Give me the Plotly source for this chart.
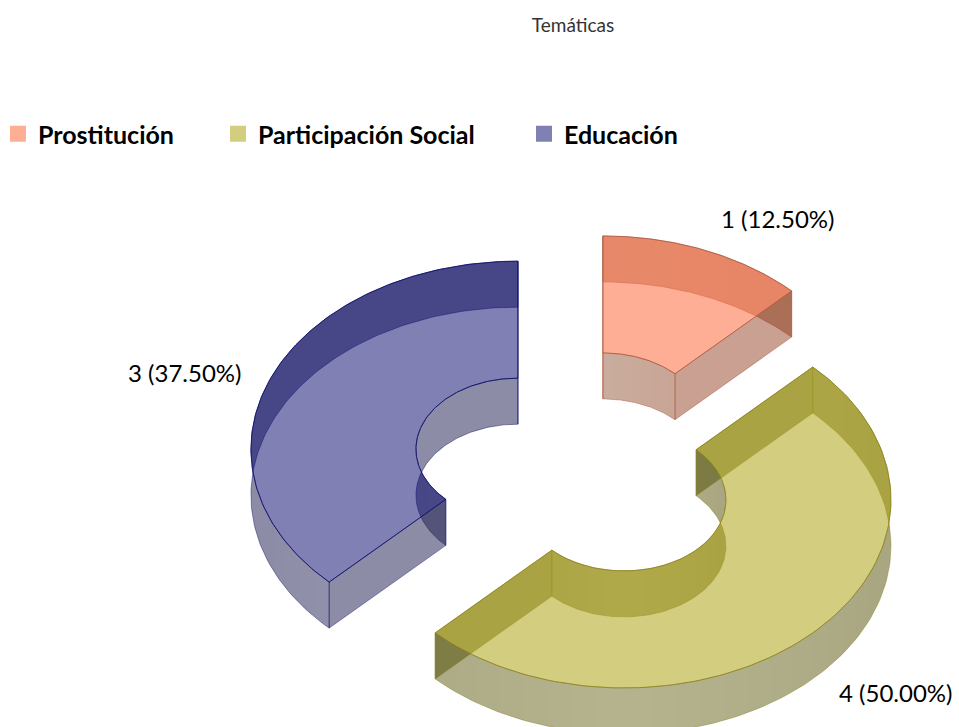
import numpy as np
import plotly.graph_objects as go

TITLE = "Temáticas"
CATEGORIES = ["Prostitución", "Participación Social", "Educación"]
VALUES = [1, 4, 3]

# style and geometry (pixels of the 959x727 canvas)
W, H = 959, 727
CX, CY, EX, EY = 578.0, 467.0, 65.0, 46.6
RX, RY, IRX, IRY, DEPTH = 267.0, 188.0, 102.0, 71.0, 46.0
TOP_FILL = ["rgba(255,107,64,.55)", "rgba(172,160,13,.53)", "rgba(1,1,105,.5)"]
WALL_FILL = ["rgba(135,44,11,.45)", "rgba(78,75,0,.49)", "rgba(26,26,78,.5)"]
EDGE = ["rgba(170,90,65,.8)", "rgba(140,130,30,.8)", "rgba(20,20,110,.9)"]
SWATCH = ["#FFAE96", "#D3CD7F", "#8080B4"]
FONT = "Lato"
LEGEND_X = [-2, 218, 524]
LABEL_POS = [(777, 218), (895, 692), (184, 372)]
GLOW_SPANS = np.linspace(66.0, 6.0, 12)   # half-widths of nested pale bands on the walls
GLOW_FILL = "rgba(255,255,255,.016)"


def arc(cx, cy, rx, ry, a0, a1, dy=0.0, n=121):
    t = np.radians(np.linspace(a0, a1, n))
    return cx + rx * np.sin(t), cy - ry * np.cos(t) + dy


def poly(xs, ys, fill, edge, width=1.0):
    return go.Scatter(x=np.r_[xs, xs[0]], y=np.r_[ys, ys[0]], mode="lines", fill="toself",
                      fillcolor=fill, line=dict(color=edge, width=width),
                      hoverinfo="skip", showlegend=False)


def curved_wall(fig, cx, cy, rx, ry, a0, a1, fill, edge):
    x, y = arc(cx, cy, rx, ry, a0, a1)
    fig.add_trace(poly(np.r_[x, x[::-1]], np.r_[y, y[::-1] + DEPTH], fill, edge))
    # nested pale bands: the wall is lighter where it faces the viewer
    for face in (0.0, 180.0):
        for d in GLOW_SPANS:
            s, e = max(a0, face - d), min(a1, face + d)
            if e > s:
                bx, by = arc(cx, cy, rx, ry, s, e, n=41)
                fig.add_trace(go.Scatter(x=np.r_[bx, bx[::-1], bx[0]],
                                         y=np.r_[by, by[::-1] + DEPTH, by[0]],
                                         mode="lines", fill="toself", fillcolor=GLOW_FILL,
                                         line=dict(width=0), hoverinfo="skip", showlegend=False))


fig = go.Figure()
total = sum(VALUES)
start = 0.0
annotations = []
for i, v in enumerate(VALUES):
    end = start + 360.0 * v / total
    mid = np.radians((start + end) / 2)
    cx = CX + EX * np.sin(mid)
    cy = CY - EY * np.cos(mid)
    wf, tf, ed = WALL_FILL[i], TOP_FILL[i], EDGE[i]
    wall_edge = ed.rsplit(",", 1)[0] + ",.45)"

    ox, oy = arc(cx, cy, RX, RY, start, end)
    ix, iy = arc(cx, cy, IRX, IRY, start, end)
    # outer and inner curved walls
    curved_wall(fig, cx, cy, RX, RY, start, end, wf, wall_edge)
    curved_wall(fig, cx, cy, IRX, IRY, start, end, wf, wall_edge)
    # radial walls at both ends
    for k in (0, -1):
        fig.add_trace(poly(np.array([ox[k], ix[k], ix[k], ox[k]]),
                           np.array([oy[k], iy[k], iy[k] + DEPTH, oy[k] + DEPTH]), wf, wall_edge))
    # top face
    fig.add_trace(poly(np.r_[ox, ix[::-1]], np.r_[oy, iy[::-1]], tf, ed))

    annotations.append(dict(x=LABEL_POS[i][0], y=LABEL_POS[i][1], xref="x", yref="y",
                            text=f"{v} ({100 * v / total:.2f}%)", showarrow=False,
                            font=dict(family=FONT, size=24, color="#000000")))
    start = end

legends = {}
for i, name in enumerate(CATEGORIES):
    key = "legend" if i == 0 else f"legend{i + 1}"
    fig.add_trace(go.Scatter(x=[None], y=[None], mode="markers", name=name, legend=key,
                             marker=dict(symbol="square", size=17, color=SWATCH[i]),
                             showlegend=True))
    legends[key] = dict(x=LEGEND_X[i] / W, y=1 - 111 / H, xanchor="left", yanchor="top",
                        bgcolor="rgba(0,0,0,0)", itemwidth=30,
                        font=dict(family=FONT, size=25, color="#000000", weight="bold"))

fig.update_layout(
    width=W, height=H, margin=dict(l=0, r=0, t=0, b=0, autoexpand=False),
    paper_bgcolor="white", plot_bgcolor="white",
    title=dict(text=TITLE, x=573 / W, y=1 - 25 / H, xanchor="center", yanchor="middle",
               font=dict(family=FONT, size=19, color="#333333")),
    xaxis=dict(range=[0, W], visible=False, fixedrange=True),
    yaxis=dict(range=[H, 0], visible=False, fixedrange=True),
    annotations=annotations,
    **legends,
)
fig.write_html("out.html", config={"displayModeBar": False},
               post_script="document.body.style.margin='0';")
